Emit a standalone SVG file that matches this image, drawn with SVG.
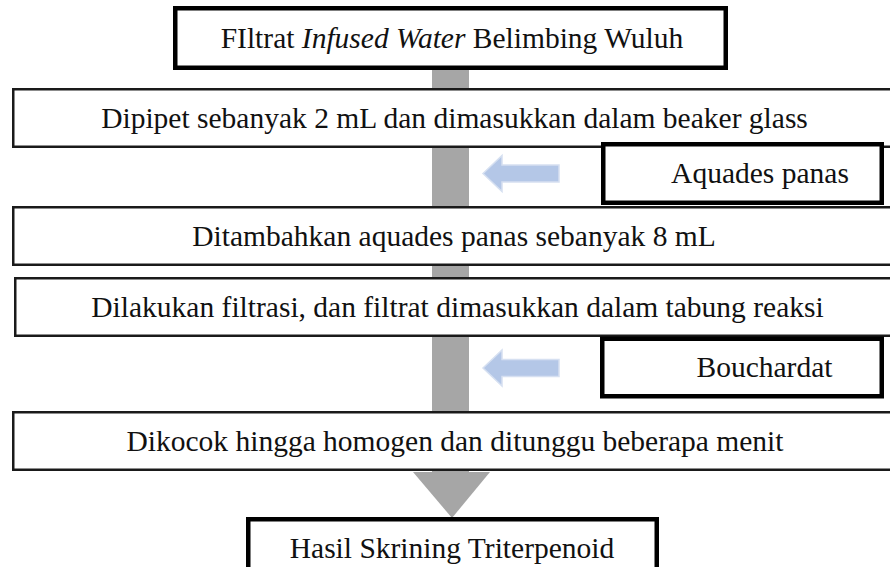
<svg xmlns="http://www.w3.org/2000/svg" width="890" height="567" viewBox="0 0 890 567">
  <style>
    .lbl { font-family: "Liberation Serif", "Times New Roman", serif; font-size: 29.5px; fill: #111; text-anchor: middle; }
    .step { fill: #fff; stroke: #1a1a1a; stroke-width: 2.5; }
    .key { fill: #fff; stroke: #000; stroke-width: 4.5; }
    .flow { fill: #a6a6a6; }
    .add { fill: #b4c7e7; stroke: #d6e0f1; stroke-width: 1.5; stroke-linejoin: miter; }
  </style>
  <defs>
    <path id="addArrow" d="M0,0 L19,-18 L19,-8.5 L76,-8.5 L76,8.5 L19,8.5 L19,18 Z"/>
  </defs>
  <rect width="890" height="567" fill="#fff"/>

  <!-- main flow connector: grey shaft with a down-pointing head -->
  <g id="connectors">
    <rect class="flow" x="432" y="68" width="37" height="405"/>
    <polygon class="flow" points="413,472 490,472 452,518"/>
    <use href="#addArrow" class="add" x="483" y="173.5"/>
    <use href="#addArrow" class="add" x="483" y="368"/>
  </g>

  <g id="start">
    <rect class="key" x="175.25" y="8.25" width="550.5" height="59.5"/>
    <text class="lbl" x="452" y="48">FIltrat <tspan font-style="italic">Infused Water</tspan> Belimbing Wuluh</text>
  </g>

  <g id="step1">
    <rect class="step" x="13.25" y="89.25" width="890" height="57.5"/>
    <text class="lbl" x="454.5" y="128">Dipipet sebanyak 2 mL dan dimasukkan dalam beaker glass</text>
  </g>

  <g id="reagent1">
    <rect class="key" x="603.25" y="144.25" width="278.5" height="58.5"/>
    <text class="lbl" x="760" y="183">Aquades panas</text>
  </g>

  <g id="step2">
    <rect class="step" x="13.25" y="207.25" width="890" height="57.5"/>
    <text class="lbl" x="454" y="246">Ditambahkan aquades panas sebanyak 8 mL</text>
  </g>

  <g id="step3">
    <rect class="step" x="15.25" y="278.25" width="890" height="57.5"/>
    <text class="lbl" x="457.5" y="317">Dilakukan filtrasi, dan filtrat dimasukkan dalam tabung reaksi</text>
  </g>

  <g id="reagent2">
    <rect class="key" x="602.25" y="338.75" width="279.5" height="57.5"/>
    <text class="lbl" x="764.5" y="377">Bouchardat</text>
  </g>

  <g id="step4">
    <rect class="step" x="13.25" y="412.25" width="890" height="57.5"/>
    <text class="lbl" x="455" y="451">Dikocok hingga homogen dan ditunggu beberapa menit</text>
  </g>

  <g id="result">
    <rect class="key" x="248.25" y="519.25" width="408.5" height="70"/>
    <text class="lbl" x="452" y="558">Hasil Skrining Triterpenoid</text>
  </g>
</svg>
